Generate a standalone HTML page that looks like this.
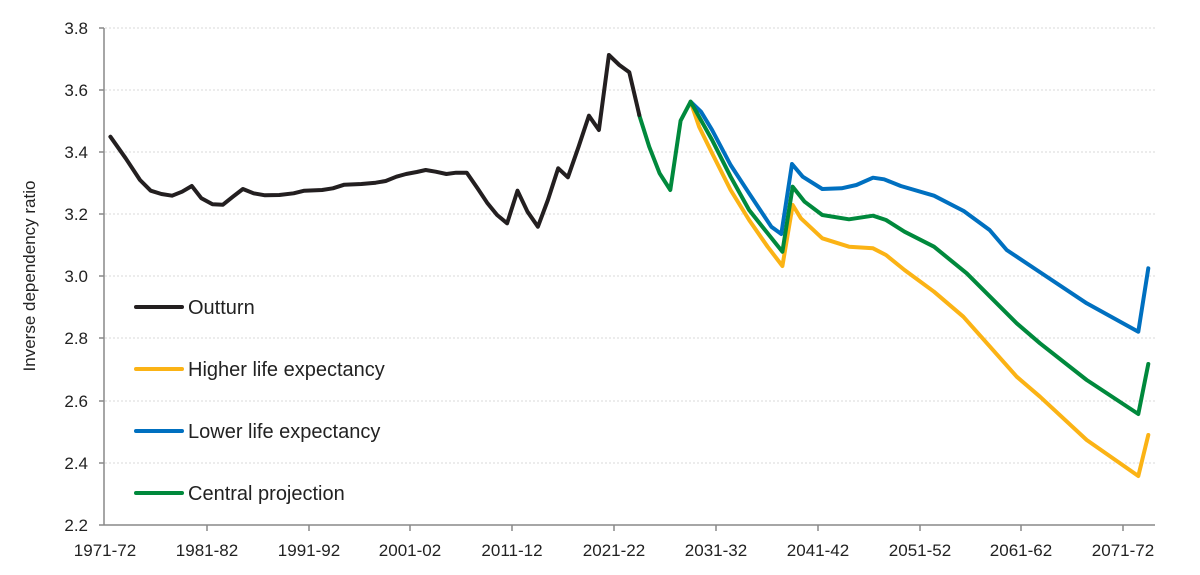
<!DOCTYPE html>
<html><head><meta charset="utf-8"><style>
body{margin:0;background:#fff;}
svg{display:block;font-family:"Liberation Sans",sans-serif;}
</style></head><body>
<svg width="1200" height="575" viewBox="0 0 1200 575">
<g stroke="#d9d9d9" stroke-width="1" stroke-dasharray="2,2">
<line x1="105" y1="28" x2="1155" y2="28"/>
<line x1="105" y1="90" x2="1155" y2="90"/>
<line x1="105" y1="152" x2="1155" y2="152"/>
<line x1="105" y1="214" x2="1155" y2="214"/>
<line x1="105" y1="276" x2="1155" y2="276"/>
<line x1="105" y1="338" x2="1155" y2="338"/>
<line x1="105" y1="401" x2="1155" y2="401"/>
<line x1="105" y1="463" x2="1155" y2="463"/>
</g>
<g stroke="#888" stroke-width="1.5">
<line x1="104" y1="28" x2="104" y2="525"/>
<line x1="104" y1="525" x2="1155" y2="525"/>
<line x1="99" y1="28" x2="104" y2="28"/><line x1="99" y1="90" x2="104" y2="90"/><line x1="99" y1="152" x2="104" y2="152"/><line x1="99" y1="214" x2="104" y2="214"/><line x1="99" y1="276" x2="104" y2="276"/><line x1="99" y1="338" x2="104" y2="338"/><line x1="99" y1="401" x2="104" y2="401"/><line x1="99" y1="463" x2="104" y2="463"/><line x1="99" y1="525" x2="104" y2="525"/>
<line x1="207" y1="525" x2="207" y2="531"/><line x1="309" y1="525" x2="309" y2="531"/><line x1="410" y1="525" x2="410" y2="531"/><line x1="512" y1="525" x2="512" y2="531"/><line x1="614" y1="525" x2="614" y2="531"/><line x1="716" y1="525" x2="716" y2="531"/><line x1="818" y1="525" x2="818" y2="531"/><line x1="920" y1="525" x2="920" y2="531"/><line x1="1021" y1="525" x2="1021" y2="531"/><line x1="1123" y1="525" x2="1123" y2="531"/>
</g>
<g font-size="17" fill="#222" text-anchor="end">
<text x="88" y="34">3.8</text><text x="88" y="96">3.6</text><text x="88" y="158">3.4</text><text x="88" y="220">3.2</text><text x="88" y="282">3.0</text><text x="88" y="344">2.8</text><text x="88" y="407">2.6</text><text x="88" y="469">2.4</text><text x="88" y="531">2.2</text>
</g>
<g font-size="17" fill="#222" text-anchor="middle">
<text x="105" y="556">1971-72</text><text x="207" y="556">1981-82</text><text x="309" y="556">1991-92</text><text x="410" y="556">2001-02</text><text x="512" y="556">2011-12</text><text x="614" y="556">2021-22</text><text x="716" y="556">2031-32</text><text x="818" y="556">2041-42</text><text x="920" y="556">2051-52</text><text x="1021" y="556">2061-62</text><text x="1123" y="556">2071-72</text>
</g>
<text transform="translate(35,276) rotate(-90)" font-size="17" fill="#222" text-anchor="middle">Inverse dependency ratio</text>
<g fill="none" stroke-width="4" stroke-linejoin="round" stroke-linecap="round">
<polyline stroke="#fbb315" points="690.6,101.7 699.1,126.7 712.1,153.3 730.6,190 749.1,220 767.6,246.7 782.4,266 792.7,205 800.9,218.3 822.3,238.3 849,246.7 873,248.3 886,255 904.5,270 934,291.7 963.3,316.7 1016.7,376.7 1040,396.7 1086.7,440 1138.3,476 1148.3,435"/>
<polyline stroke="#0070c0" points="690.6,101.7 701,111.7 712.1,130 730.6,165 749.1,193.3 771.3,226.7 781.3,234 792,164 802.7,176.7 822.3,189 841.6,188.3 856.4,185 873,177.7 884.1,179.3 900.8,186 934,195.7 963.7,211 989.6,230 1006.7,250 1036.7,270 1086.7,303.3 1138.3,331.7 1148.3,268.3"/>
<polyline stroke="#00893c" points="639.2,115 649.2,146.7 659.6,173.3 670.3,190 680.6,120.7 690.6,101.7 712.1,140 730.6,176.7 749.1,210 767.6,233.3 782.4,251.7 792.7,186.7 804.6,201.7 822.3,215 849,219.3 873,215.7 886,220 904.5,231.7 934,246.7 966.7,273.3 1016.7,323.3 1040,343.3 1086.7,380 1138.3,414 1148.3,364"/>
<polyline stroke="#231f20" points="110.4,136.7 125.7,158.3 140,180 150.7,190.7 161.4,194 172.1,195.7 182.1,191.7 191.8,186 201.4,198.3 212.5,204.3 222.9,204.7 232.9,196.7 242.9,189 253.6,193.3 265,195.3 279.3,195 293.6,193.3 304.3,190.7 322.1,190 332.9,188.3 344.3,184.7 361.4,184 375.7,182.7 385.7,181 396.4,176.7 406.1,174 416.8,172 425.7,170 435.7,171.7 446.4,174 456.1,172.7 466.8,172.7 477.5,188.3 487.1,202.7 497.1,215 507.1,223.3 517.5,190.7 527.5,211.7 537.9,226.7 547.9,200 558.2,168.3 567.9,177.3 578.6,146.7 588.9,115.7 598.9,130 608.9,55 619.3,65 629.3,72.3 639.3,115"/>
</g>
<g stroke-width="4" stroke-linecap="round">
<line x1="136" y1="307" x2="182" y2="307" stroke="#231f20"/>
<line x1="136" y1="369" x2="182" y2="369" stroke="#fbb315"/>
<line x1="136" y1="431" x2="182" y2="431" stroke="#0070c0"/>
<line x1="136" y1="493" x2="182" y2="493" stroke="#00893c"/>
</g>
<g font-size="20" fill="#222">
<text x="188" y="314">Outturn</text>
<text x="188" y="376">Higher life expectancy</text>
<text x="188" y="438">Lower life expectancy</text>
<text x="188" y="500">Central projection</text>
</g>
</svg>
</body></html>
